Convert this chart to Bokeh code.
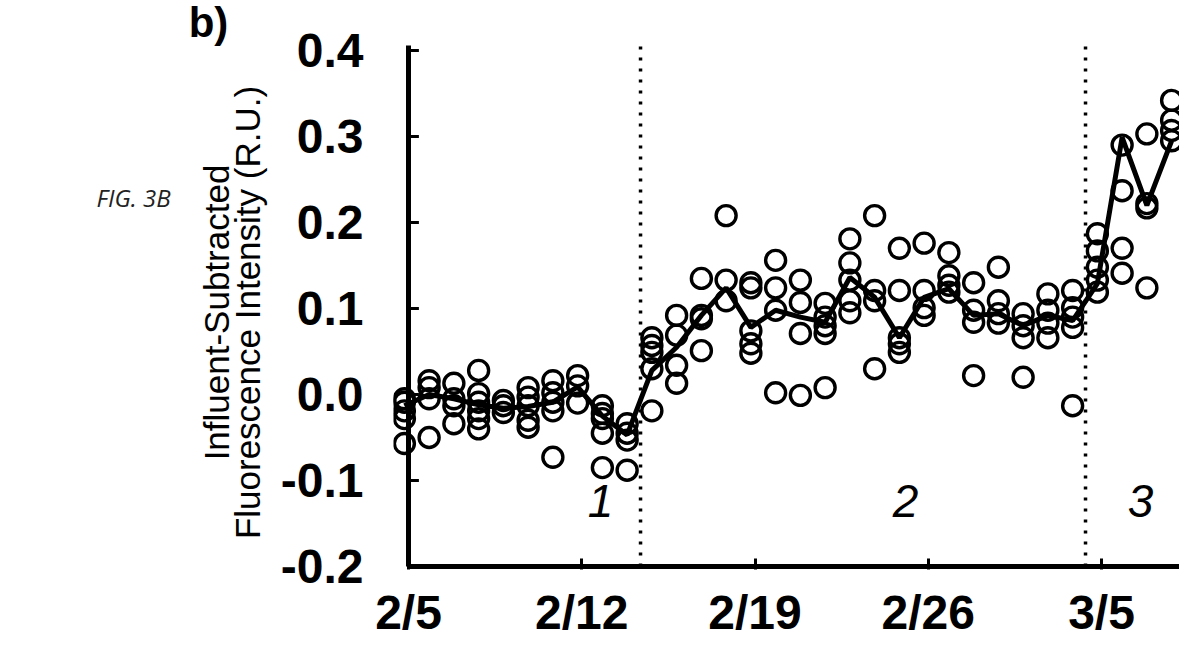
import math
import pandas as pd
from bokeh.plotting import figure
from bokeh.layouts import row
from bokeh.models import Label, FixedTicker, Range1d
from bokeh.embed import file_html
from bokeh.resources import INLINE

# ---------------- data ----------------
sample_times = [
    "2019-02-04 20:00", "2019-02-05 20:00", "2019-02-06 20:00", "2019-02-07 20:00",
    "2019-02-08 20:00", "2019-02-09 20:00", "2019-02-10 20:00", "2019-02-11 20:00",
    "2019-02-12 20:00", "2019-02-13 20:00", "2019-02-14 20:00", "2019-02-15 20:00",
    "2019-02-16 20:00", "2019-02-17 20:00", "2019-02-18 20:00", "2019-02-19 20:00",
    "2019-02-20 20:00", "2019-02-21 20:00", "2019-02-22 20:00", "2019-02-23 20:00",
    "2019-02-24 20:00", "2019-02-25 20:00", "2019-02-26 20:00", "2019-02-27 20:00",
    "2019-02-28 20:00", "2019-03-01 20:00", "2019-03-02 20:00", "2019-03-03 20:00",
    "2019-03-04 20:00", "2019-03-05 20:00", "2019-03-06 20:00", "2019-03-07 20:00",
]

replicates = [
    [-0.005, -0.009, -0.019, -0.028, -0.057],
    [0.016, 0.008, -0.005, -0.050],
    [0.013, -0.005, -0.013, -0.034],
    [0.028, 0.001, -0.009, -0.019, -0.028, -0.040],
    [-0.007, -0.013, -0.021],
    [0.008, -0.003, -0.013, -0.030, -0.038],
    [0.016, 0.002, -0.009, -0.019, -0.073],
    [0.022, 0.010, -0.010],
    [-0.013, -0.022, -0.028, -0.045, -0.085],
    [-0.034, -0.045, -0.053, -0.088],
    [0.066, 0.057, 0.049, 0.030, -0.019],
    [0.092, 0.069, 0.034, 0.013],
    [0.135, 0.092, 0.088, 0.051],
    [0.208, 0.133, 0.109],
    [0.130, 0.124, 0.074, 0.059, 0.048],
    [0.156, 0.124, 0.098, 0.002],
    [0.133, 0.107, 0.071, -0.001],
    [0.106, 0.090, 0.080, 0.071, 0.008],
    [0.181, 0.153, 0.133, 0.109, 0.095],
    [0.208, 0.121, 0.109, 0.030],
    [0.170, 0.121, 0.066, 0.059, 0.049],
    [0.176, 0.121, 0.101, 0.092],
    [0.165, 0.138, 0.127, 0.119],
    [0.130, 0.098, 0.084, 0.022],
    [0.148, 0.109, 0.094, 0.083],
    [0.094, 0.080, 0.066, 0.020],
    [0.117, 0.098, 0.083, 0.066],
    [0.121, 0.101, 0.090, 0.078, -0.013],
    [0.187, 0.167, 0.148, 0.133, 0.119],
    [0.290, 0.237, 0.170, 0.141],
    [0.303, 0.222, 0.217, 0.124],
    [0.342, 0.319, 0.307, 0.295],
]

daily_mean = [
    -0.013, 0.000, -0.005, -0.012, -0.016, -0.014, -0.009, 0.009,
    -0.025, -0.047, 0.028, 0.055, 0.092, 0.124, 0.078, 0.098,
    0.090, 0.084, 0.136, 0.113, 0.066, 0.113, 0.123, 0.092,
    0.094, 0.080, 0.092, 0.086, 0.129, 0.299, 0.220, 0.295,
]

stage_boundaries = ["2019-02-14 09:00", "2019-03-04 08:30"]
stage_names = ["1", "2", "3"]

x_tick_dates = ["2019-02-05", "2019-02-12", "2019-02-19", "2019-02-26", "2019-03-05"]
x_tick_labels = ["2/5", "2/12", "2/19", "2/26", "3/5"]
y_ticks = [-0.2, -0.1, 0.0, 0.1, 0.2, 0.3, 0.4]
y_tick_labels = ["-0.2", "-0.1", "0.0", "0.1", "0.2", "0.3", "0.4"]

y_axis_title = ["Influent-Subtracted", "Fluorescence Intensity (R.U.)"]
panel_tag = "b)"
figure_tag = "FIG. 3B"

# ---------------- layout ----------------
W, H = 1179, 645
LEFT_W = 275            # side canvas holding the figure tag and axis title
FRAME_LEFT = 393        # page x of the main plotting frame
FRAME_BOTTOM = 569
AXIS_TOP_PX = 45        # where the drawn y axis line begins

DAY = 86400000.0


def ms(s):
    return pd.Timestamp(s).value / 1e6


T0 = ms(x_tick_dates[0])
PX_PER_DAY = 24.75
ORIGIN_PX = 408.0
PX_PER_UNIT = 860.0


def page_to_data(px, py):
    return T0 + (px - ORIGIN_PX) / PX_PER_DAY * DAY, 0.4 - (py - 50.0) / PX_PER_UNIT


x_start = T0 - (ORIGIN_PX - FRAME_LEFT) / PX_PER_DAY * DAY
x_end = T0 + (W - ORIGIN_PX) / PX_PER_DAY * DAY
y_end = 0.4 + 50 / PX_PER_UNIT
y_start = 0.4 - (FRAME_BOTTOM - 50) / PX_PER_UNIT
axis_top = 0.4 + (50 - AXIS_TOP_PX) / PX_PER_UNIT

times = [ms(t) for t in sample_times]
xs, ys = [], []
for t, vals in zip(times, replicates):
    xs += [t] * len(vals)
    ys += vals

AX_FONT = "Liberation Sans"

# ---- left canvas: tags and y-axis title (data units = page pixels) ----
side = figure(width=LEFT_W, height=H, x_range=Range1d(0, LEFT_W), y_range=Range1d(H - FRAME_BOTTOM, H),
              x_axis_location=None, y_axis_location=None, output_backend="svg",
              toolbar_location=None, title=None,
              min_border_left=0, min_border_right=0, min_border_top=0,
              min_border_bottom=H - FRAME_BOTTOM)
side.outline_line_color = None
side.xgrid.visible = False
side.ygrid.visible = False
side.border_fill_color = "white"

side.add_layout(Label(x=208, y=H - 22, text=panel_tag, text_font=AX_FONT, text_font_style="bold",
                      text_font_size="42px", text_align="center", text_baseline="middle",
                      text_color="black"))
side.add_layout(Label(x=133, y=H - 197, text=figure_tag, text_font="Open Sans",
                      text_font_style="italic", text_font_size="24px", text_align="center",
                      text_baseline="middle", text_color="#222222"))
for txt, px in zip(y_axis_title, [216, 247]):
    side.add_layout(Label(x=px, y=H - 312, text=txt, angle=math.pi / 2, text_font=AX_FONT,
                          text_font_size="35px", text_align="center", text_baseline="middle",
                          text_color="black"))

# ---- main plot ----
p = figure(width=W - LEFT_W, height=H, x_axis_type="datetime",
           x_range=Range1d(x_start, x_end), y_range=Range1d(y_start, y_end),
           output_backend="svg", toolbar_location=None, title=None,
           min_border_left=FRAME_LEFT - LEFT_W, min_border_right=0,
           min_border_top=0, min_border_bottom=H - FRAME_BOTTOM)
p.outline_line_color = None
p.xgrid.visible = False
p.ygrid.visible = False
p.background_fill_color = "white"
p.border_fill_color = "white"

p.yaxis.ticker = FixedTicker(ticks=y_ticks)
p.yaxis.major_label_overrides = {v: s for v, s in zip(y_ticks, y_tick_labels)}
p.yaxis.axis_line_color = None
p.yaxis.major_tick_line_color = None
p.yaxis.minor_tick_line_color = None
p.yaxis.major_label_text_font = AX_FONT
p.yaxis.major_label_text_font_style = "bold"
p.yaxis.major_label_text_font_size = "48px"
p.yaxis.major_label_text_color = "black"
p.yaxis.major_label_standoff = 24

x_ticks = [ms(d) for d in x_tick_dates]
p.xaxis.ticker = FixedTicker(ticks=x_ticks)
p.xaxis.major_label_overrides = {v: s for v, s in zip(x_ticks, x_tick_labels)}
p.xaxis.axis_line_color = None
p.xaxis.minor_tick_line_color = None
p.xaxis.major_tick_in = 11
p.xaxis.major_tick_out = 0
p.xaxis.major_tick_line_width = 3
p.xaxis.major_tick_line_color = "black"
p.xaxis.major_label_text_font = AX_FONT
p.xaxis.major_label_text_font_style = "bold"
p.xaxis.major_label_text_font_size = "48px"
p.xaxis.major_label_text_color = "black"
p.xaxis.major_label_standoff = 16

# axis lines drawn from the origin date
p.segment(x0=[T0], y0=[y_ticks[0]], x1=[T0], y1=[axis_top], line_color="black", line_width=5)
p.segment(x0=[T0], y0=[y_ticks[0]], x1=[x_end], y1=[y_ticks[0]], line_color="black", line_width=5)
p.segment(x0=[T0] * len(y_ticks), y0=y_ticks, x1=[T0 + 0.42 * DAY] * len(y_ticks), y1=y_ticks,
          line_color="black", line_width=3)

bx = [ms(b) for b in stage_boundaries]
p.segment(x0=bx, y0=[y_ticks[0]] * len(bx), x1=bx, y1=[axis_top] * len(bx),
          line_color="black", line_width=3.5, line_dash="3 8")

p.scatter(xs, ys, marker="circle", size=20, fill_color=None, line_color="black", line_width=3.4)
p.line(times, daily_mean, line_color="black", line_width=5)

stage_label_px = [(600, 500), (905, 500), (1140, 500)]
for name, (px, py) in zip(stage_names, stage_label_px):
    x, y = page_to_data(px, py)
    p.add_layout(Label(x=x, y=y, text=name, text_font=AX_FONT, text_font_style="italic",
                       text_font_size="46px", text_align="center", text_baseline="middle",
                       text_color="black"))

layout = row(side, p)
open("out.html", "w").write(file_html(layout, INLINE))
